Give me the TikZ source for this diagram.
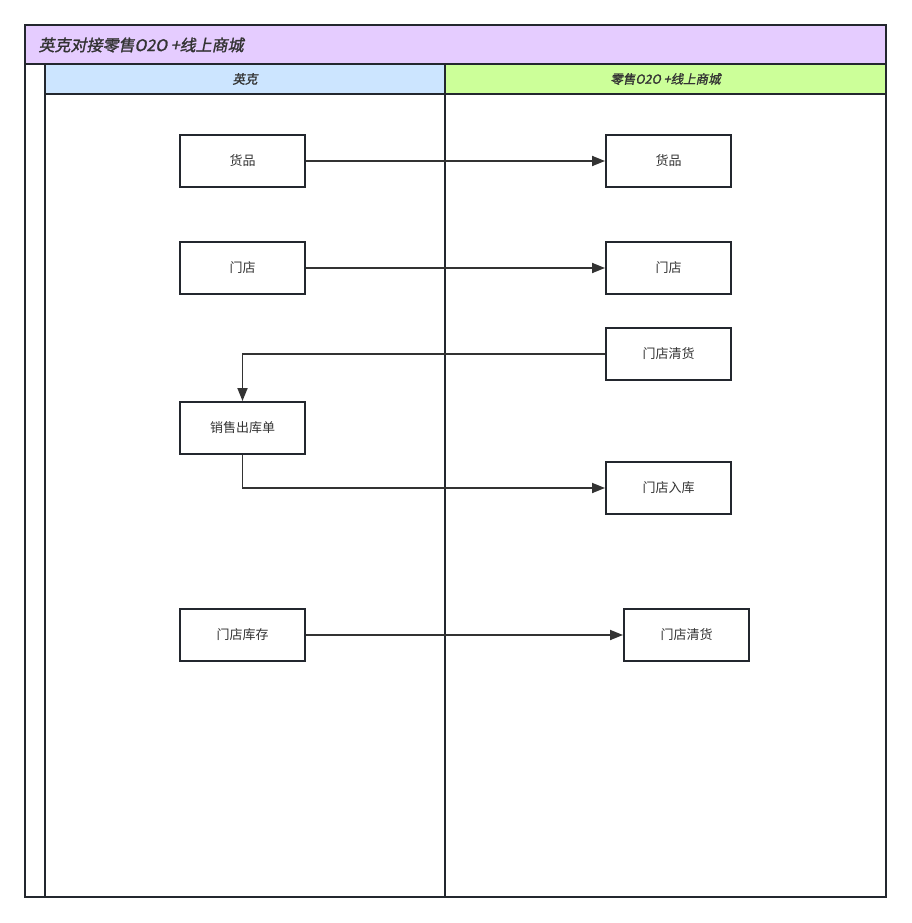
\documentclass[tikz,border=0pt]{standalone}
\usepackage{fontspec}
\setmainfont{Noto Sans CJK SC}
\newfontfamily\cjkit[FakeSlant=0.2,FakeBold=1.5]{Noto Sans CJK SC}
\usetikzlibrary{arrows.meta}
\definecolor{titlebg}{HTML}{E5CCFF}
\definecolor{leftbg}{HTML}{CCE5FF}
\definecolor{rightbg}{HTML}{CCFF99}
\definecolor{edge}{HTML}{23272E}
\definecolor{linegray}{HTML}{333333}
\definecolor{txt}{HTML}{333333}
\tikzstyle{line} = [draw=linegray, line width=1.8pt, -{Triangle[length=13pt,width=10pt]}]
\tikzstyle{box} = [draw=edge, line width=2pt, fill=white, minimum width=125pt, minimum height=52pt,
   inner sep=0pt, font=\fontsize{13}{15}\selectfont, text=txt]
\tikzstyle{lanehead} = [font=\cjkit\fontsize{12.5}{15}\selectfont, text=txt]

\begin{document}
\begin{tikzpicture}[x=1pt,y=-1pt]

\useasboundingbox (0,0) rectangle (911,923);

% pool title and lane headers
\fill[titlebg] (25,25) rectangle (886,64);
\fill[leftbg] (45,64) rectangle (445,94);
\fill[rightbg] (445,64) rectangle (886,94);
\node[anchor=west, font=\cjkit\fontsize{16}{18}\selectfont, text=txt] (pool) at (35,45) {英克对接零售O2O +线上商城};
\node[lanehead] (laneL) at (245,79) {英克};
\node[lanehead] (laneR) at (665.5,79) {零售O2O +线上商城};

% frames
\draw[edge, line width=2pt] (25,25) rectangle (886,897);
\draw[edge, line width=2pt] (25,64) -- (886,64);
\draw[edge, line width=2pt] (45,64) -- (45,897);
\draw[edge, line width=2pt] (45,94) -- (886,94);
\draw[edge, line width=2pt] (445,64) -- (445,897);

% left lane
\node[box] (hp1) at (242.5,161) {货品};
\node[box] (md1) at (242.5,268) {门店};
\node[box] (xs) at (242.5,428) {销售出库单};
\node[box] (kc) at (242.5,635) {门店库存};

% right lane
\node[box] (hp2) at (668.5,161) {货品};
\node[box] (md2) at (668.5,268) {门店};
\node[box] (qh1) at (668.5,354) {门店清货};
\node[box] (rk) at (668.5,488) {门店入库};
\node[box] (qh2) at (686.5,635) {门店清货};

% connectors
\draw[line] (hp1) -- (hp2);
\draw[line] (md1) -- (md2);
\draw[line] (qh1.west) -| (xs.north);
\draw[line] (xs.south) |- (rk.west);
\draw[line] (kc) -- (qh2);

\end{tikzpicture}
\end{document}
